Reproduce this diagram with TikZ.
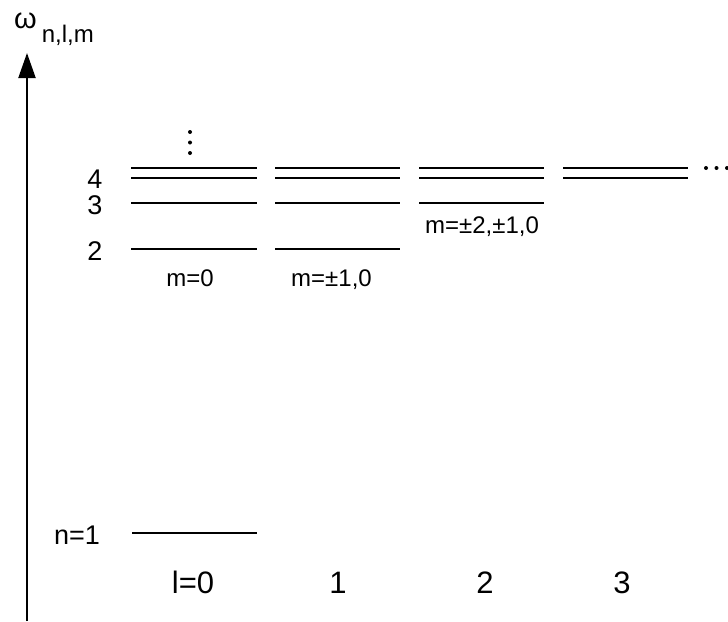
\documentclass[tikz,border=0pt]{standalone}
\usepackage{fontspec}
\setmainfont{Liberation Sans}
\usetikzlibrary{arrows.meta}
\begin{document}
\begin{tikzpicture}[x=1pt,y=-1pt,
  level/.style={line width=1.8pt},
  lbl/.style={inner sep=0pt,anchor=base},
  fs/.style={font=\fontsize{#1}{#1}\selectfont}]
\useasboundingbox (0,0) rectangle (728,621);

% frequency axis
\coordinate (axbot) at (27,621);
\coordinate (axtop) at (27,53);
\draw[line width=2pt,-{Triangle[length=25pt,width=17pt]}] (axbot) -- (axtop);
\node[inner sep=0pt,anchor=base west,fs=29] (omega) at (14,28)
  {ω\kern5pt\raisebox{-14pt}{\fontsize{24}{24}\selectfont n,l,m}};

% energy levels, one column per l
\foreach \xa/\xb in {131/257,275/400,419/544,563/688}{
  \draw[level] (\xa,168.3) -- (\xb,168.3);
  \draw[level] (\xa,177.7) -- (\xb,177.7);
}
\foreach \xa/\xb in {131/257,275/400,419/544}{
  \draw[level] (\xa,202.7) -- (\xb,202.7);
}
\foreach \xa/\xb in {131/257,275/400}{
  \draw[level] (\xa,249.3) -- (\xb,249.3);
}
\draw[level] (132,533) -- (257,533);

% continuation dots
\foreach \y in {132,142.5,153}{ \fill (190,\y) circle (2pt); }
\foreach \x in {706,716.5,727}{ \fill (\x,168) circle (2pt); }

% principal quantum number labels
\node[lbl,fs=27] (n4) at (95,188) {4};
\node[lbl,fs=27] (n3) at (95,214) {3};
\node[lbl,fs=27] (n2) at (95,260) {2};
\node[lbl,fs=27] (n1) at (77,544) {n=1};

% magnetic quantum number labels
\node[lbl,fs=24] (m0) at (190,286) {m=0};
\node[lbl,fs=24] (m1) at (331.5,286) {m=±1,0};
\node[lbl,fs=24] (m2) at (482,233) {m=±2,±1,0};

% orbital quantum number labels
\node[lbl,fs=31] (l0) at (193,593.5) {l=0};
\node[lbl,fs=31] (l1) at (338,593.5) {1};
\node[lbl,fs=31] (l2) at (485,593.5) {2};
\node[lbl,fs=31] (l3) at (622,593.5) {3};
\end{tikzpicture}
\end{document}
